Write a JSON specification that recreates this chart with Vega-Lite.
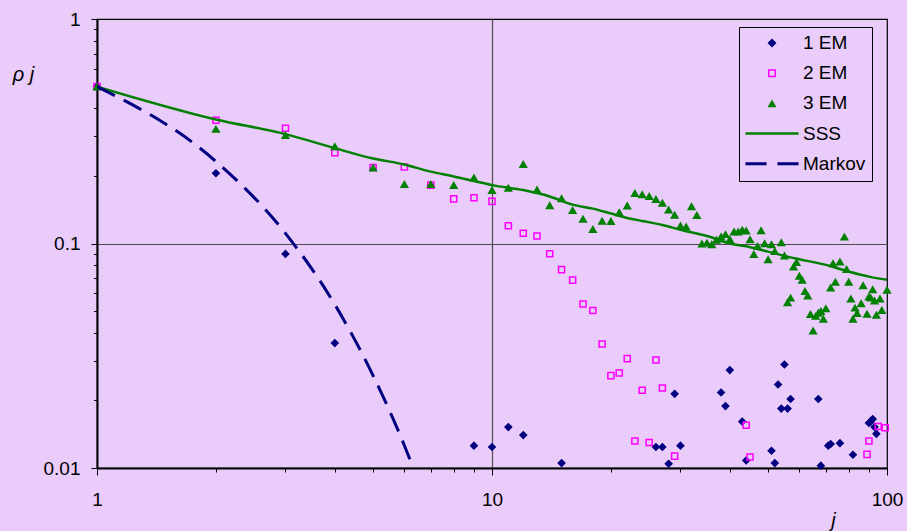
{
  "$schema": "https://vega.github.io/schema/vega-lite/v6.json",
  "width": 790,
  "height": 449,
  "autosize": {"type": "none"},
  "padding": {"left": 97, "top": 19, "right": 20, "bottom": 63},
  "background": "#E9CCFA",
  "config": {
    "font": "Liberation Sans",
    "view": {"stroke": "#000000", "strokeWidth": 1.2},
    "axis": {
      "labelFont": "Liberation Sans",
      "labelFontSize": 19,
      "labelColor": "#000000",
      "labelFlush": false,
      "labelOverlap": false,
      "domainColor": "#000000",
      "domainWidth": 2,
      "tickColor": "#000000",
      "tickWidth": 1,
      "gridColor": "#4d4d4d",
      "gridWidth": 1.2,
      "titleFont": "Liberation Sans",
      "titleFontSize": 20,
      "titleFontWeight": "normal",
      "titleFontStyle": "italic",
      "titleColor": "#000000",
      "titleAngle": 0,
      "titleAlign": "center",
      "titleBaseline": "middle"
    }
  },
  "data": {
    "values": [
      {"j": 1, "value": 0.5, "series": "1 EM"},
      {"j": 2, "value": 0.2055, "series": "1 EM"},
      {"j": 3, "value": 0.0899, "series": "1 EM"},
      {"j": 4, "value": 0.036, "series": "1 EM"},
      {"j": 9, "value": 0.01257, "series": "1 EM"},
      {"j": 10, "value": 0.0124, "series": "1 EM"},
      {"j": 11, "value": 0.01522, "series": "1 EM"},
      {"j": 12, "value": 0.01402, "series": "1 EM"},
      {"j": 15, "value": 0.01052, "series": "1 EM"},
      {"j": 26, "value": 0.0124, "series": "1 EM"},
      {"j": 27, "value": 0.0124, "series": "1 EM"},
      {"j": 28, "value": 0.01045, "series": "1 EM"},
      {"j": 29, "value": 0.0214, "series": "1 EM"},
      {"j": 30, "value": 0.01257, "series": "1 EM"},
      {"j": 38, "value": 0.0217, "series": "1 EM"},
      {"j": 39, "value": 0.01887, "series": "1 EM"},
      {"j": 40, "value": 0.0273, "series": "1 EM"},
      {"j": 43, "value": 0.0161, "series": "1 EM"},
      {"j": 44, "value": 0.0108, "series": "1 EM"},
      {"j": 51, "value": 0.01194, "series": "1 EM"},
      {"j": 52, "value": 0.01052, "series": "1 EM"},
      {"j": 53, "value": 0.02355, "series": "1 EM"},
      {"j": 54, "value": 0.0184, "series": "1 EM"},
      {"j": 55, "value": 0.0289, "series": "1 EM"},
      {"j": 56, "value": 0.0184, "series": "1 EM"},
      {"j": 57, "value": 0.0203, "series": "1 EM"},
      {"j": 67, "value": 0.0203, "series": "1 EM"},
      {"j": 68, "value": 0.01024, "series": "1 EM"},
      {"j": 71, "value": 0.01257, "series": "1 EM"},
      {"j": 72, "value": 0.01279, "series": "1 EM"},
      {"j": 76, "value": 0.0129, "series": "1 EM"},
      {"j": 82, "value": 0.01146, "series": "1 EM"},
      {"j": 90, "value": 0.01586, "series": "1 EM"},
      {"j": 91, "value": 0.0161, "series": "1 EM"},
      {"j": 92, "value": 0.01652, "series": "1 EM"},
      {"j": 93, "value": 0.01522, "series": "1 EM"},
      {"j": 94, "value": 0.0142, "series": "1 EM"},

      {"j": 1, "value": 0.5, "series": "2 EM"},
      {"j": 2, "value": 0.354, "series": "2 EM"},
      {"j": 3, "value": 0.326, "series": "2 EM"},
      {"j": 4, "value": 0.254, "series": "2 EM"},
      {"j": 5, "value": 0.218, "series": "2 EM"},
      {"j": 6, "value": 0.219, "series": "2 EM"},
      {"j": 7, "value": 0.182, "series": "2 EM"},
      {"j": 8, "value": 0.158, "series": "2 EM"},
      {"j": 9, "value": 0.16, "series": "2 EM"},
      {"j": 10, "value": 0.154, "series": "2 EM"},
      {"j": 11, "value": 0.12, "series": "2 EM"},
      {"j": 12, "value": 0.111, "series": "2 EM"},
      {"j": 13, "value": 0.108, "series": "2 EM"},
      {"j": 14, "value": 0.09, "series": "2 EM"},
      {"j": 15, "value": 0.0765, "series": "2 EM"},
      {"j": 16, "value": 0.0687, "series": "2 EM"},
      {"j": 17, "value": 0.0538, "series": "2 EM"},
      {"j": 18, "value": 0.0503, "series": "2 EM"},
      {"j": 19, "value": 0.0357, "series": "2 EM"},
      {"j": 20, "value": 0.0258, "series": "2 EM"},
      {"j": 21, "value": 0.0265, "series": "2 EM"},
      {"j": 22, "value": 0.0307, "series": "2 EM"},
      {"j": 23, "value": 0.0132, "series": "2 EM"},
      {"j": 24, "value": 0.0222, "series": "2 EM"},
      {"j": 25, "value": 0.013, "series": "2 EM"},
      {"j": 26, "value": 0.0303, "series": "2 EM"},
      {"j": 27, "value": 0.0227, "series": "2 EM"},
      {"j": 29, "value": 0.0113, "series": "2 EM"},
      {"j": 44, "value": 0.0155, "series": "2 EM"},
      {"j": 45, "value": 0.0112, "series": "2 EM"},
      {"j": 89, "value": 0.0115, "series": "2 EM"},
      {"j": 90, "value": 0.0132, "series": "2 EM"},
      {"j": 95, "value": 0.0153, "series": "2 EM"},
      {"j": 99, "value": 0.0151, "series": "2 EM"},

      {"j": 1, "value": 0.5, "series": "3 EM"},
      {"j": 2, "value": 0.324, "series": "3 EM"},
      {"j": 3, "value": 0.304, "series": "3 EM"},
      {"j": 4, "value": 0.271, "series": "3 EM"},
      {"j": 5, "value": 0.218, "series": "3 EM"},
      {"j": 6, "value": 0.184, "series": "3 EM"},
      {"j": 7, "value": 0.184, "series": "3 EM"},
      {"j": 8, "value": 0.182, "series": "3 EM"},
      {"j": 9, "value": 0.197, "series": "3 EM"},
      {"j": 10, "value": 0.173, "series": "3 EM"},
      {"j": 11, "value": 0.177, "series": "3 EM"},
      {"j": 12, "value": 0.226, "series": "3 EM"},
      {"j": 13, "value": 0.174, "series": "3 EM"},
      {"j": 14, "value": 0.148, "series": "3 EM"},
      {"j": 15, "value": 0.159, "series": "3 EM"},
      {"j": 16, "value": 0.141, "series": "3 EM"},
      {"j": 17, "value": 0.129, "series": "3 EM"},
      {"j": 18, "value": 0.116, "series": "3 EM"},
      {"j": 19, "value": 0.1264, "series": "3 EM"},
      {"j": 20, "value": 0.126, "series": "3 EM"},
      {"j": 21, "value": 0.1378, "series": "3 EM"},
      {"j": 22, "value": 0.1475, "series": "3 EM"},
      {"j": 23, "value": 0.168, "series": "3 EM"},
      {"j": 24, "value": 0.1657, "series": "3 EM"},
      {"j": 25, "value": 0.1628, "series": "3 EM"},
      {"j": 26, "value": 0.158, "series": "3 EM"},
      {"j": 27, "value": 0.152, "series": "3 EM"},
      {"j": 28, "value": 0.1418, "series": "3 EM"},
      {"j": 29, "value": 0.1344, "series": "3 EM"},
      {"j": 30, "value": 0.1204, "series": "3 EM"},
      {"j": 31, "value": 0.119, "series": "3 EM"},
      {"j": 32, "value": 0.1466, "series": "3 EM"},
      {"j": 33, "value": 0.134, "series": "3 EM"},
      {"j": 34, "value": 0.0999, "series": "3 EM"},
      {"j": 35, "value": 0.1009, "series": "3 EM"},
      {"j": 36, "value": 0.0993, "series": "3 EM"},
      {"j": 37, "value": 0.1038, "series": "3 EM"},
      {"j": 38, "value": 0.1075, "series": "3 EM"},
      {"j": 39, "value": 0.1101, "series": "3 EM"},
      {"j": 40, "value": 0.1046, "series": "3 EM"},
      {"j": 41, "value": 0.1132, "series": "3 EM"},
      {"j": 42, "value": 0.113, "series": "3 EM"},
      {"j": 43, "value": 0.1153, "series": "3 EM"},
      {"j": 44, "value": 0.1144, "series": "3 EM"},
      {"j": 45, "value": 0.1045, "series": "3 EM"},
      {"j": 46, "value": 0.0897, "series": "3 EM"},
      {"j": 47, "value": 0.0976, "series": "3 EM"},
      {"j": 48, "value": 0.1145, "series": "3 EM"},
      {"j": 49, "value": 0.1003, "series": "3 EM"},
      {"j": 50, "value": 0.0851, "series": "3 EM"},
      {"j": 51, "value": 0.0992, "series": "3 EM"},
      {"j": 52, "value": 0.0927, "series": "3 EM"},
      {"j": 54, "value": 0.1013, "series": "3 EM"},
      {"j": 55, "value": 0.0884, "series": "3 EM"},
      {"j": 56, "value": 0.0547, "series": "3 EM"},
      {"j": 57, "value": 0.0574, "series": "3 EM"},
      {"j": 58, "value": 0.0789, "series": "3 EM"},
      {"j": 59, "value": 0.0828, "series": "3 EM"},
      {"j": 60, "value": 0.0718, "series": "3 EM"},
      {"j": 61, "value": 0.0689, "series": "3 EM"},
      {"j": 62, "value": 0.0615, "series": "3 EM"},
      {"j": 63, "value": 0.0586, "series": "3 EM"},
      {"j": 64, "value": 0.0485, "series": "3 EM"},
      {"j": 65, "value": 0.041, "series": "3 EM"},
      {"j": 66, "value": 0.0476, "series": "3 EM"},
      {"j": 67, "value": 0.0491, "series": "3 EM"},
      {"j": 68, "value": 0.0501, "series": "3 EM"},
      {"j": 69, "value": 0.0462, "series": "3 EM"},
      {"j": 70, "value": 0.0515, "series": "3 EM"},
      {"j": 72, "value": 0.0637, "series": "3 EM"},
      {"j": 73, "value": 0.0817, "series": "3 EM"},
      {"j": 74, "value": 0.0675, "series": "3 EM"},
      {"j": 76, "value": 0.0831, "series": "3 EM"},
      {"j": 78, "value": 0.1073, "series": "3 EM"},
      {"j": 79, "value": 0.077, "series": "3 EM"},
      {"j": 80, "value": 0.0675, "series": "3 EM"},
      {"j": 81, "value": 0.0569, "series": "3 EM"},
      {"j": 82, "value": 0.0462, "series": "3 EM"},
      {"j": 83, "value": 0.0518, "series": "3 EM"},
      {"j": 84, "value": 0.049, "series": "3 EM"},
      {"j": 86, "value": 0.0542, "series": "3 EM"},
      {"j": 87, "value": 0.0652, "series": "3 EM"},
      {"j": 89, "value": 0.0486, "series": "3 EM"},
      {"j": 90, "value": 0.058, "series": "3 EM"},
      {"j": 91, "value": 0.0574, "series": "3 EM"},
      {"j": 92, "value": 0.0626, "series": "3 EM"},
      {"j": 93, "value": 0.0557, "series": "3 EM"},
      {"j": 94, "value": 0.0481, "series": "3 EM"},
      {"j": 96, "value": 0.0569, "series": "3 EM"},
      {"j": 97, "value": 0.0506, "series": "3 EM"},
      {"j": 100, "value": 0.0622, "series": "3 EM"},

      {"j": 1, "value": 0.5, "series": "SSS"},
      {"j": 2, "value": 0.357, "series": "SSS"},
      {"j": 3, "value": 0.307, "series": "SSS"},
      {"j": 4, "value": 0.266, "series": "SSS"},
      {"j": 5, "value": 0.239, "series": "SSS"},
      {"j": 6, "value": 0.225, "series": "SSS"},
      {"j": 7, "value": 0.209, "series": "SSS"},
      {"j": 8, "value": 0.199, "series": "SSS"},
      {"j": 9, "value": 0.19, "series": "SSS"},
      {"j": 10, "value": 0.182, "series": "SSS"},
      {"j": 12, "value": 0.173, "series": "SSS"},
      {"j": 14, "value": 0.162, "series": "SSS"},
      {"j": 16, "value": 0.149, "series": "SSS"},
      {"j": 18, "value": 0.143, "series": "SSS"},
      {"j": 20, "value": 0.136, "series": "SSS"},
      {"j": 22, "value": 0.13, "series": "SSS"},
      {"j": 24, "value": 0.126, "series": "SSS"},
      {"j": 27, "value": 0.121, "series": "SSS"},
      {"j": 30, "value": 0.115, "series": "SSS"},
      {"j": 35, "value": 0.108, "series": "SSS"},
      {"j": 40, "value": 0.1, "series": "SSS"},
      {"j": 45, "value": 0.0963, "series": "SSS"},
      {"j": 50, "value": 0.092, "series": "SSS"},
      {"j": 55, "value": 0.0881, "series": "SSS"},
      {"j": 60, "value": 0.0851, "series": "SSS"},
      {"j": 70, "value": 0.0803, "series": "SSS"},
      {"j": 80, "value": 0.075, "series": "SSS"},
      {"j": 90, "value": 0.0712, "series": "SSS"},
      {"j": 100, "value": 0.0689, "series": "SSS"},

      {"j": 1, "value": 0.5, "series": "Markov"},
      {"j": 2, "value": 0.232, "series": "Markov"},
      {"j": 3, "value": 0.111, "series": "Markov"},
      {"j": 4, "value": 0.0535, "series": "Markov"},
      {"j": 5, "value": 0.0258, "series": "Markov"},
      {"j": 6, "value": 0.0126, "series": "Markov"},
      {"j": 7, "value": 0.0061, "series": "Markov"}
    ]
  },
  "encoding": {
    "x": {
      "field": "j",
      "type": "quantitative",
      "scale": {"type": "log", "domain": [1, 100], "nice": false},
      "axis": {
        "title": "j",
        "titleX": 736,
        "titleY": 52,
        "values": [1, 2, 3, 4, 5, 6, 7, 8, 9, 10, 20, 30, 40, 50, 60, 70, 80, 90, 100],
        "labelExpr": "datum.value == 1 || datum.value == 10 || datum.value == 100 ? datum.label : ''",
        "format": "d",
        "labelPadding": 15,
        "tickSize": {"condition": {"test": "datum.value == 1 || datum.value == 10 || datum.value == 100", "value": 7}, "value": 4},
        "grid": true,
        "gridOpacity": {"condition": {"test": "datum.value == 10", "value": 1}, "value": 0}
      }
    },
    "y": {
      "field": "value",
      "type": "quantitative",
      "scale": {"type": "log", "domain": [0.01, 1], "nice": false},
      "axis": {
        "title": "ρ j",
        "titleX": -74,
        "titleY": 55,
        "values": [0.01, 0.02, 0.03, 0.04, 0.05, 0.06, 0.07, 0.08, 0.09, 0.1, 0.2, 0.3, 0.4, 0.5, 0.6, 0.7, 0.8, 0.9, 1],
        "labelExpr": "datum.value == 1 ? '1' : datum.value == 0.1 ? '0.1' : datum.value == 0.01 ? '0.01' : ''",
        "labelPadding": 11,
        "tickSize": {"condition": {"test": "datum.value == 1 || datum.value == 0.1 || datum.value == 0.01", "value": 6}, "value": 3.5},
        "grid": true,
        "gridOpacity": {"condition": {"test": "datum.value == 0.1", "value": 1}, "value": 0}
      }
    },
    "color": {
      "field": "series",
      "type": "nominal",
      "scale": {
        "domain": ["1 EM", "2 EM", "3 EM", "SSS", "Markov"],
        "range": ["#000080", "#FF00FF", "#008000", "#008000", "#000080"]
      },
      "legend": {
        "title": null,
        "orient": "none",
        "legendX": 642,
        "legendY": 8,
        "padding": 6.5,
        "strokeColor": "#000000",
        "symbolSize": 81,
        "symbolStrokeWidth": 1.5,
        "symbolOffset": 17,
        "labelOffset": 21.5,
        "labelFont": "Liberation Sans",
        "labelFontSize": 19,
        "labelColor": "#000000",
        "rowPadding": 10.2,
        "symbolOpacity": 1,
        "encode": {
          "symbols": {
            "update": {
              "shape": {"signal": "datum.value === '1 EM' ? 'diamond' : datum.value === '2 EM' ? 'M-0.72,-0.72H0.72V0.72H-0.72Z' : datum.value === '3 EM' ? 'triangle-up' : datum.value === 'SSS' ? 'M-5.9,0H5.9' : 'M-5.9,0H-1.2M1.2,0H5.9'"},
              "fill": {"signal": "datum.value === '1 EM' ? '#000080' : datum.value === '3 EM' ? '#008000' : 'transparent'"},
              "fillOpacity": {"signal": "datum.value === '1 EM' || datum.value === '3 EM' ? 1 : 0"},
              "stroke": {"signal": "datum.value === '2 EM' ? '#FF00FF' : (datum.value === '1 EM' || datum.value === 'Markov') ? '#000080' : '#008000'"},
              "strokeWidth": {"signal": "datum.value === 'SSS' ? 2.5 : datum.value === 'Markov' ? 3 : datum.value === '2 EM' ? 1.5 : 0"}
            }
          }
        }
      }
    }
  },
  "layer": [
    {
      "transform": [{"filter": "datum.series === '1 EM'"}],
      "mark": {"type": "point", "shape": "diamond", "filled": true, "size": 75, "opacity": 1}
    },
    {
      "transform": [{"filter": "datum.series === '2 EM'"}],
      "mark": {"type": "point", "shape": "square", "filled": false, "size": 37, "strokeWidth": 1.5, "opacity": 1}
    },
    {
      "transform": [{"filter": "datum.series === '3 EM'"}],
      "mark": {"type": "point", "shape": "triangle-up", "filled": true, "size": 85, "opacity": 1}
    },
    {
      "transform": [{"filter": "datum.series === 'SSS'"}],
      "mark": {"type": "line", "strokeWidth": 2.5, "interpolate": "monotone", "clip": true}
    },
    {
      "transform": [{"filter": "datum.series === 'Markov'"}],
      "mark": {"type": "line", "strokeWidth": 3, "strokeDash": [20, 10], "interpolate": "monotone", "clip": true}
    }
  ]
}
